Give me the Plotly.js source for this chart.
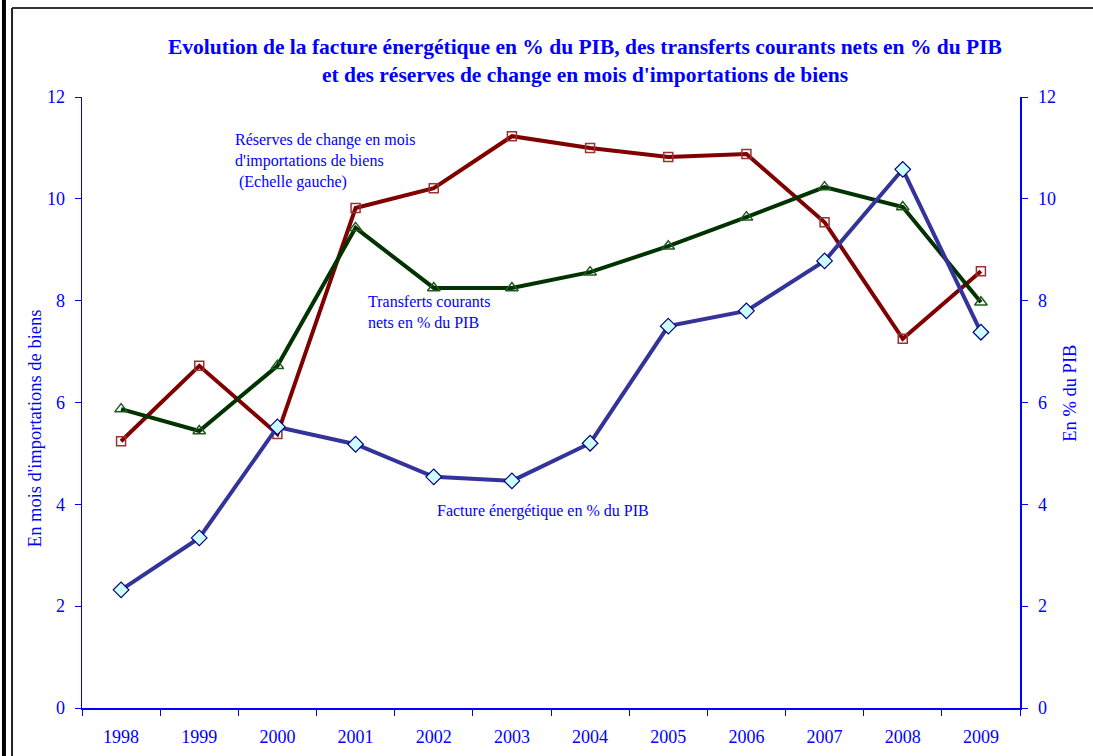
<!DOCTYPE html>
<html>
<head>
<meta charset="utf-8">
<script src="https://cdn.plot.ly/plotly-3.0.1.min.js"></script>
<style>html,body{margin:0;padding:0;background:#fff;}#chart{width:1093px;height:756px;}</style>
</head>
<body>
<div id="chart"></div>
<script>
const years = ['1998','1999','2000','2001','2002','2003','2004','2005','2006','2007','2008','2009'];
const reserves = [5.24, 6.72, 5.38, 9.82, 10.21, 11.23, 11.0, 10.82, 10.88, 9.54, 7.25, 8.58];
const transferts = [5.87, 5.44, 6.72, 9.43, 8.25, 8.25, 8.56, 9.07, 9.64, 10.23, 9.84, 7.97];
const facture = [2.32, 3.34, 5.52, 5.18, 4.54, 4.46, 5.2, 7.5, 7.8, 8.78, 10.58, 7.38];

const titleLine1 = 'Evolution de la facture énergétique en % du PIB, des transferts courants nets en % du PIB';
const titleLine2 = "et des réserves de change en mois d'importations de biens";
const leftTitle = "En mois d'importations de biens";
const rightTitle = 'En % du PIB';

const BLUE = '#0000FF';
const SERIF = 'Liberation Serif, Times New Roman, serif';

const traces = [
  {x: years, y: reserves, type: 'scatter', mode: 'lines+markers', yaxis: 'y', name: 'Réserves',
   line: {color: '#800000', width: 4},
   marker: {symbol: 'square-open', size: 9, color: '#993333', line: {width: 1.5, color: '#993333'}}},
  {x: years, y: transferts, type: 'scatter', mode: 'lines+markers', yaxis: 'y2', name: 'Transferts',
   line: {color: '#003300', width: 4},
   marker: {symbol: 'triangle-up-open', size: 11, color: '#1f5a1f', line: {width: 1.5, color: '#1f5a1f'}}},
  {x: years, y: facture, type: 'scatter', mode: 'lines+markers', yaxis: 'y2', name: 'Facture',
   line: {color: '#333399', width: 4},
   marker: {symbol: 'diamond', size: 12, color: '#CCFFFF', line: {width: 1.2, color: '#000080'}}}
];

const tickFont = {family: SERIF, size: 18, color: BLUE};

const layout = {
  width: 1093, height: 756,
  margin: {l: 82, r: 73, t: 97, b: 48},
  paper_bgcolor: '#ffffff', plot_bgcolor: '#ffffff',
  showlegend: false,
  xaxis: {type: 'category', range: [-0.5, 11.5], tickson: 'boundaries', ticks: 'outside', ticklen: 6,
          tickcolor: BLUE, tickwidth: 1, showline: true, linecolor: BLUE, linewidth: 1.5,
          showgrid: false, zeroline: false, tickfont: tickFont, ticklabelstandoff: 12, fixedrange: true},
  xaxis2: {overlaying: 'x', anchor: 'y', range: [-0.5, 11.5], tick0: -0.5, dtick: 1, ticks: 'inside', ticklen: 6,
           tickcolor: BLUE, tickwidth: 1, showticklabels: false, showgrid: false, zeroline: false, showline: false},
  yaxis: {range: [0, 12], dtick: 2, ticks: 'outside', ticklen: 6, tickcolor: BLUE, tickwidth: 1,
          showline: true, linecolor: BLUE, linewidth: 1.5, showgrid: false, zeroline: false,
          tickfont: tickFont, ticklabelstandoff: 6},
  yaxis2: {range: [0, 12], dtick: 2, overlaying: 'y', side: 'right', anchor: 'x', ticks: 'outside', ticklen: 6,
           tickcolor: BLUE, tickwidth: 1, showline: true, linecolor: BLUE, linewidth: 1.5, showgrid: false,
           zeroline: false, tickfont: tickFont, ticklabelstandoff: 7},
  yaxis3: {range: [0, 12], dtick: 2, overlaying: 'y', side: 'left', anchor: 'x', ticks: 'inside', ticklen: 6,
           tickcolor: BLUE, tickwidth: 1, showticklabels: false, showgrid: false, zeroline: false, showline: false},
  yaxis4: {range: [0, 12], dtick: 2, overlaying: 'y', side: 'right', anchor: 'x', ticks: 'inside', ticklen: 6,
           tickcolor: BLUE, tickwidth: 1, showticklabels: false, showgrid: false, zeroline: false, showline: false},
  annotations: [
    {text: '<b>' + titleLine1 + '</b>', xref: 'paper', yref: 'paper', x: 0.5365, y: 1.082, yanchor: 'middle', xanchor: 'center',
     showarrow: false, font: {family: SERIF, size: 21.5, color: BLUE}},
    {text: '<b>' + titleLine2 + '</b>', xref: 'paper', yref: 'paper', x: 0.5365, y: 1.036, yanchor: 'middle', xanchor: 'center',
     showarrow: false, font: {family: SERIF, size: 21.5, color: BLUE}},
    {text: "Réserves de change en mois<br>d'importations de biens<br>&nbsp;(Echelle gauche)", xref: 'paper', yref: 'paper',
     x: 0.161, y: 0.948, xanchor: 'left', yanchor: 'top', align: 'left', showarrow: false,
     font: {family: SERIF, size: 16, color: BLUE}},
    {text: 'Transferts courants<br>nets en % du PIB', xref: 'paper', yref: 'paper',
     x: 0.303, y: 0.683, xanchor: 'left', yanchor: 'top', align: 'left', showarrow: false,
     font: {family: SERIF, size: 16, color: BLUE}},
    {text: 'Facture énergétique en % du PIB', xref: 'paper', yref: 'paper',
     x: 0.3765, y: 0.3225, xanchor: 'left', yanchor: 'middle', align: 'left', showarrow: false,
     font: {family: SERIF, size: 16, color: BLUE}},
    {text: leftTitle, xref: 'paper', yref: 'paper', x: -0.0501, y: 0.458, xanchor: 'center', yanchor: 'middle',
     textangle: -90, showarrow: false, font: {family: SERIF, size: 18.5, color: BLUE}},
    {text: rightTitle, xref: 'paper', yref: 'paper', x: 1.053, y: 0.5155, xanchor: 'center', yanchor: 'middle',
     textangle: -90, showarrow: false, font: {family: SERIF, size: 18.5, color: BLUE}}
  ],
  shapes: [
    {type: 'line', xref: 'paper', yref: 'paper', x0: -0.0832, x1: -0.0832, y0: 1.16, y1: -0.08,
     line: {color: '#000000', width: 4}},
    {type: 'line', xref: 'paper', yref: 'paper', x0: -0.0746, x1: -0.0746, y0: 1.1457, y1: -0.08,
     line: {color: '#222222', width: 2}},
    {type: 'line', xref: 'paper', yref: 'paper', x0: -0.0746, x1: 1.08, y0: 1.1457, y1: 1.1457,
     line: {color: '#333333', width: 2}}
  ]
};

Plotly.newPlot('chart', traces, layout, {displayModeBar: false, staticPlot: true});
</script>
</body>
</html>
